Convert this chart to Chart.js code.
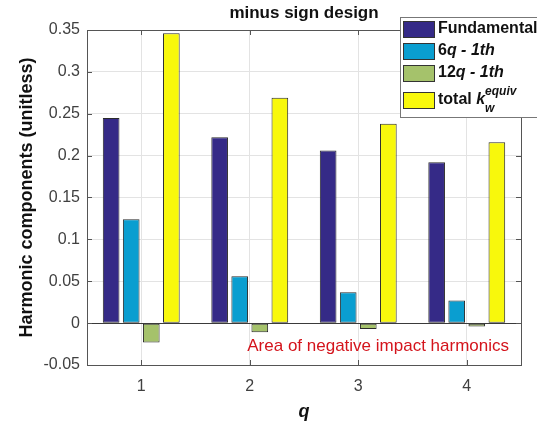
<!DOCTYPE html>
<html>
<head>
<meta charset="utf-8">
<script src="https://cdn.jsdelivr.net/npm/chart.js@4/dist/chart.umd.min.js"></script>
<style>
    html, body { margin: 0; padding: 0; background: #fff; }
    #wrap { width: 537px; height: 423px; }
</style>
</head>
<body>
<div id="wrap"><canvas id="myChart"></canvas></div>
<script>
// q values on the x axis
const qLabels = ["1", "2", "3", "4"];

// harmonic components per q
const fundamental = [0.245, 0.222, 0.206, 0.192];
const sixQ = [0.124, 0.056, 0.037, 0.027];
const twelveQ = [-0.023, -0.011, -0.007, -0.004];
const totalK = [0.346, 0.269, 0.238, 0.216];

const seriesNames = ["Fundamental", "6q - 1th", "12q - 1th", "total k_w^equiv"];
const seriesColors = ["#352a87", "#0a9ed0", "#a5c26b", "#f8f80c"];

const yTicks = [-0.05, 0, 0.05, 0.1, 0.15, 0.2, 0.25, 0.3, 0.35];

const FONT = "'Liberation Sans', Arial, sans-serif";

// legend texts, split in parts for italics / super / subscript
const legendParts = [
    [{ t: "Fundamental" }],
    [{ t: "6" }, { t: "q - 1th", i: true }],
    [{ t: "12" }, { t: "q - 1th", i: true }],
    [{ t: "total " }, { t: "k", i: true }, { t: "equiv", i: true, sup: true }, { t: "w", i: true, sub: true }]
];

const matlabBits = {
    id: "matlabBits",
    afterDraw(chart) {
        const ctx = chart.ctx;
        const a = chart.chartArea;
        const x = chart.scales.x;
        const y = chart.scales.y;

        ctx.save();

        // baseline at zero
        const y0 = y.getPixelForValue(0);
        ctx.strokeStyle = "#3a3a3a";
        ctx.lineWidth = 1;
        ctx.beginPath();
        ctx.moveTo(a.left, Math.round(y0) + 0.5);
        ctx.lineTo(a.right, Math.round(y0) + 0.5);
        ctx.stroke();

        // axes box
        ctx.strokeStyle = "#555";
        ctx.strokeRect(Math.round(a.left) + 0.5, Math.round(a.top) + 0.5,
            Math.round(a.right - a.left), Math.round(a.bottom - a.top));

        // inward ticks
        ctx.beginPath();
        y.ticks.forEach(t => {
            const py = Math.round(y.getPixelForValue(t.value)) + 0.5;
            ctx.moveTo(a.left, py); ctx.lineTo(a.left + 5, py);
            ctx.moveTo(a.right, py); ctx.lineTo(a.right - 5, py);
        });
        x.ticks.forEach((t, i) => {
            const px = Math.round(x.getPixelForTick(i)) + 0.5;
            ctx.moveTo(px, a.bottom); ctx.lineTo(px, a.bottom - 5);
            ctx.moveTo(px, a.top); ctx.lineTo(px, a.top + 5);
        });
        ctx.stroke();

        // title
        ctx.fillStyle = "#111";
        ctx.font = "bold 17px " + FONT;
        ctx.textAlign = "center";
        ctx.textBaseline = "middle";
        ctx.fillText("minus sign design", (a.left + a.right) / 2, 13);

        // annotation
        ctx.fillStyle = "#d4141c";
        ctx.font = "17px " + FONT;
        ctx.textAlign = "right";
        ctx.fillText("Area of negative impact harmonics", a.right - 12, y.getPixelForValue(-0.028));

        // legend
        const lx = 400, ly = 17;
        ctx.fillStyle = "#fff";
        ctx.fillRect(lx, ly, 150, 100);
        ctx.strokeStyle = "#777";
        ctx.strokeRect(lx + 0.5, ly + 0.5, 150, 100);

        const rowsY = [29, 51, 73, 100];
        chart.data.datasets.forEach((ds, k) => {
            const cy = rowsY[k];
            ctx.fillStyle = ds.backgroundColor;
            ctx.fillRect(403, cy - 8, 31, 16);
            ctx.strokeStyle = "#333";
            ctx.strokeRect(403.5, cy - 7.5, 31, 16);

            let tx = 438;
            ctx.fillStyle = "#111";
            ctx.textAlign = "left";
            ctx.textBaseline = "middle";
            let kx = 0;
            legendParts[k].forEach(p => {
                const size = (p.sup || p.sub) ? 12 : 16;
                ctx.font = (p.i ? "italic " : "") + "bold " + size + "px " + FONT;
                let dy = 0;
                let px = tx;
                if (p.sup) { dy = -8; kx = tx; }
                if (p.sub) { dy = 9; px = kx; }
                ctx.fillText(p.t, px, cy + dy);
                if (!p.sub) tx += ctx.measureText(p.t).width;
            });
        });

        ctx.restore();
    }
};

const ctx = document.getElementById("myChart").getContext("2d");

new Chart(ctx, {
    type: "bar",
    data: {
        labels: qLabels,
        datasets: [fundamental, sixQ, twelveQ, totalK].map((vals, k) => ({
            label: seriesNames[k],
            data: vals,
            backgroundColor: seriesColors[k],
            borderColor: "#2b2b2b",
            borderWidth: 1,
            borderSkipped: false,
            categoryPercentage: 0.74,
            barPercentage: 0.83
        }))
    },
    options: {
        responsive: true,
        maintainAspectRatio: false,
        animation: false,
        layout: { padding: { top: 30, right: 16, left: 0, bottom: 0 } },
        plugins: {
            legend: { display: false },
            tooltip: { enabled: false }
        },
        scales: {
            x: {
                offset: true,
                grid: { offset: false, color: "#e3e3e3", drawTicks: false },
                border: { display: false },
                ticks: { color: "#404040", font: { family: FONT, size: 16 }, padding: 12 },
                title: {
                    display: true,
                    text: "q",
                    color: "#111",
                    font: { family: FONT, size: 18, weight: "bold", style: "italic" },
                    padding: { top: 0, bottom: 0 }
                },
                afterFit(scale) { scale.height = 58; }
            },
            y: {
                min: -0.05,
                max: 0.35,
                afterBuildTicks(scale) { scale.ticks = yTicks.map(v => ({ value: v })); },
                grid: { color: "#e3e3e3", drawTicks: false },
                border: { display: false },
                ticks: {
                    color: "#404040",
                    font: { family: FONT, size: 16 },
                    padding: 7,
                    callback: v => String(parseFloat(v.toFixed(2)))
                },
                title: {
                    display: true,
                    text: "Harmonic components (unitless)",
                    color: "#111",
                    font: { family: FONT, size: 18, weight: "bold" },
                    padding: { top: 16, bottom: 0 }
                },
                afterFit(scale) { scale.width = 87; }
            }
        }
    },
    plugins: [matlabBits]
});
</script>
</body>
</html>
